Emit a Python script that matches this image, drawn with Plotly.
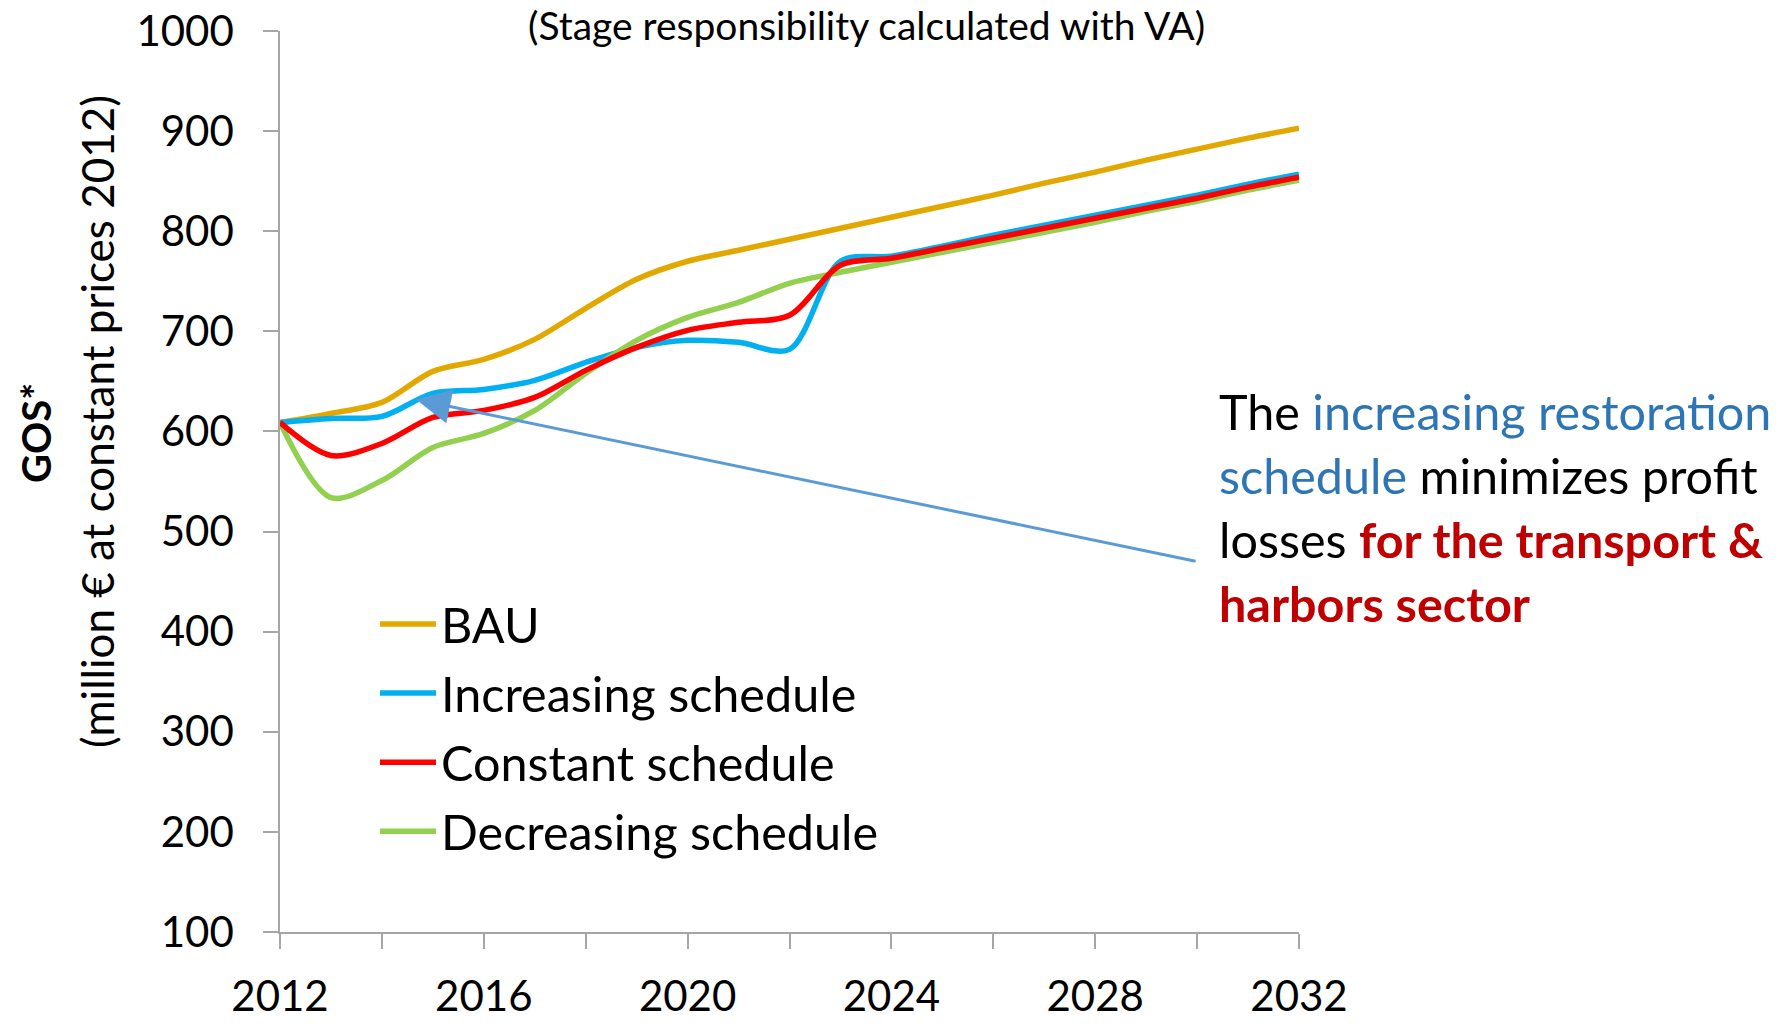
import plotly.graph_objects as go

years = list(range(2012, 2033))
bau = [609, 618, 629, 660, 672, 692, 723, 752, 770, 781, 792, 803, 814, 825, 836, 848, 859, 871, 882, 893, 903]
increasing = [609, 613, 615, 638, 642, 651, 669, 684, 691, 689, 682, 770, 775, 785, 796, 806, 816, 826, 836, 847, 857]
constant = [609, 576, 588, 614, 621, 634, 661, 684, 701, 709, 716, 766, 773, 783, 793, 803, 813, 823, 833, 844, 854]
decreasing = [609, 534, 551, 584, 598, 621, 658, 691, 714, 729, 748, 759, 769, 779, 789, 799, 809, 820, 830, 841, 851]

x_tickvals = list(range(2012, 2033, 2))
x_ticktext = ["2012", "", "2016", "", "2020", "", "2024", "", "2028", "", "2032"]
y_tickvals = list(range(100, 1001, 100))

FONT = "Lato"
W, H = 1787, 1024
L, R, T, B = 280, 1299, 31, 932

def px(xp):
    return (xp - L) / (R - L)

def py(yp):
    return (B - yp) / (B - T)

fig = go.Figure()
series = [
    ("BAU", bau, "#E3A800"),
    ("Increasing schedule", increasing, "#00B0F0"),
    ("Decreasing schedule", decreasing, "#92D050"),
    ("Constant schedule", constant, "#FF0000"),
]
legend_rank = {"BAU": 1, "Increasing schedule": 2, "Constant schedule": 3, "Decreasing schedule": 4}
for name, vals, col in series:
    fig.add_trace(go.Scatter(
        x=years, y=vals, name=name, mode="lines",
        line=dict(color=col, width=5.5, shape="spline", smoothing=0.9),
        legendgroup=name, legendrank=legend_rank[name],
    ))

axis_col = "#A6A6A6"
fig.update_xaxes(
    range=[2012, 2032], tickvals=x_tickvals, ticktext=x_ticktext,
    showgrid=False, zeroline=False, showline=True, linecolor=axis_col, linewidth=1.5,
    ticks="outside", ticklen=15, tickcolor=axis_col, tickwidth=1.5,
    ticklabelstandoff=12,
    tickfont=dict(family=FONT, size=42, color="black"),
)
fig.update_yaxes(
    range=[100, 1000], tickvals=y_tickvals,
    showgrid=False, zeroline=False, showline=True, linecolor=axis_col, linewidth=1.5,
    ticks="outside", ticklen=15, tickcolor=axis_col, tickwidth=1.5,
    ticklabelstandoff=21,
    tickfont=dict(family=FONT, size=42, color="black"),
)

annotations = [
    dict(text="(Stage responsibility calculated with VA)", xref="paper", yref="paper",
         x=px(866), y=py(0), xanchor="center", yanchor="top", showarrow=False,
         font=dict(family=FONT, size=39, color="black")),
    dict(text="<b>GOS*</b>", xref="paper", yref="paper", x=px(36), y=py(433),
         xanchor="center", yanchor="middle", textangle=-90, showarrow=False,
         font=dict(family=FONT, size=40, color="black")),
    dict(text="(million € at constant prices 2012)", xref="paper", yref="paper", x=px(97), y=py(422),
         xanchor="center", yanchor="middle", textangle=-90, showarrow=False,
         font=dict(family=FONT, size=44, color="black")),
    dict(text="", x=2014.67, y=632, ax=2030.0, ay=470, axref="x", ayref="y", xref="x", yref="y",
         showarrow=True, arrowhead=2, arrowsize=2.3, arrowwidth=3, arrowcolor="#5B9BD5"),
]
blue = "#2E75B6"
red = "#C00000"
lines = [
    (411, "The <span style='color:%s'>increasing restoration</span>" % blue),
    (475, "<span style='color:%s'>schedule</span> minimizes profit" % blue),
    (539, "losses <span style='color:%s'><b>for the transport &amp;</b></span>" % red),
    (603, "<span style='color:%s'><b>harbors sector</b></span>" % red),
]
for yp, t in lines:
    annotations.append(dict(text=t, xref="paper", yref="paper", x=px(1217), y=py(yp),
                            xanchor="left", yanchor="middle", showarrow=False, align="left",
                            font=dict(family=FONT, size=48.5, color="black")))

fig.update_layout(
    width=W, height=H,
    margin=dict(l=L, r=W - R, t=T, b=H - B, autoexpand=False),
    paper_bgcolor="white", plot_bgcolor="white",
    showlegend=True,
    legend=dict(x=px(375), y=py(586), xanchor="left", yanchor="top",
                font=dict(family=FONT, size=48.5, color="black"),
                bgcolor="rgba(0,0,0,0)", tracegroupgap=3, itemwidth=56),
    annotations=annotations,
)

fig.write_html("out.html", config={"displayModeBar": False},
               post_script="document.body.style.margin='0';")
